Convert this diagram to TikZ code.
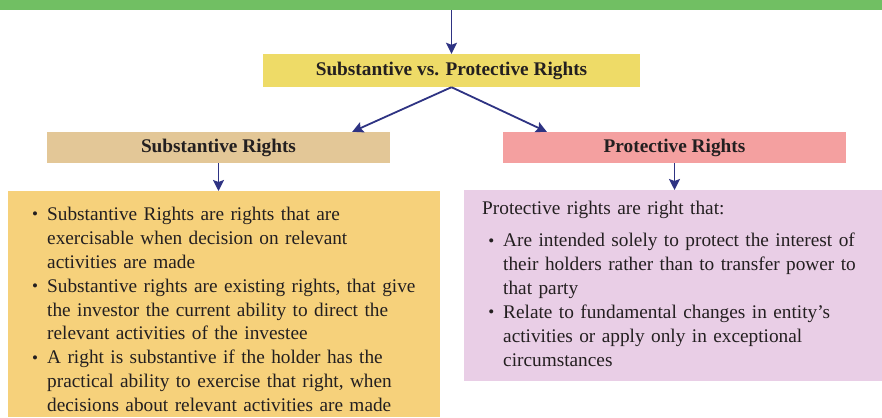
\documentclass[tikz,border=0pt]{standalone}
\usepackage{fontspec}
\setmainfont{Liberation Serif}
\usepackage{enumitem}
\usetikzlibrary{arrows.meta}
\definecolor{barGreen}{HTML}{71BF63}
\definecolor{titleYellow}{HTML}{EEDB67}
\definecolor{substTan}{HTML}{E3C797}
\definecolor{protPink}{HTML}{F4A0A0}
\definecolor{substGold}{HTML}{F6D17B}
\definecolor{protLilac}{HTML}{E9CEE6}
\definecolor{arrowNavy}{HTML}{2E3383}
\definecolor{inkDark}{HTML}{231F20}
\newcommand{\rightsdot}{\raisebox{0.5pt}{\fontsize{17}{17}\selectfont\textbullet}}
\begin{document}
\begin{tikzpicture}[x=1pt, y=-1pt,
  headbox/.style={rectangle, inner sep=0pt, text=inkDark, font=\bfseries\fontsize{19.3}{23}\selectfont},
  listbox/.style={rectangle, inner ysep=0pt, align=left, text=inkDark, font=\fontsize{19.3}{23.9}\selectfont},
  arr/.style={-{Stealth[length=11pt, width=11pt, inset=2pt]}, line width=1.8pt, draw=arrowNavy}]
\useasboundingbox (0,0) rectangle (882,417);

% Green strip and title
\node[fill=barGreen, anchor=north west, inner sep=0pt, minimum width=882pt, minimum height=10pt] (bar) at (0,0) {};
\node[headbox, fill=titleYellow, minimum width=377pt, minimum height=33pt] (title) at (451.5,70.5) {Substantive vs. Protective Rights};

% Second level headings
\node[headbox, fill=substTan, minimum width=343pt, minimum height=31pt] (subst) at (218.5,147.5) {Substantive Rights};
\node[headbox, fill=protPink, minimum width=343pt, minimum height=31pt] (prot) at (674.5,147.5) {Protective Rights};

% Detail boxes
\node[listbox, fill=substGold, inner xsep=16pt, text width=400pt, minimum height=226pt, anchor=north west] (substlist) at (8,191) {%
  \begin{itemize}[leftmargin=23pt, labelsep=9pt, label=\rightsdot, topsep=0pt, itemsep=0pt, parsep=0pt, partopsep=0pt]
  \item Substantive Rights are rights that are\\ exercisable when decision on relevant\\ activities are made
  \item Substantive rights are existing rights, that give\\ the investor the current ability to direct the\\ relevant activities of the investee
  \item A right is substantive if the holder has the\\ practical ability to exercise that right, when\\ decisions about relevant activities are made
  \end{itemize}};
\node[listbox, fill=protLilac, inner xsep=18pt, text width=382pt, minimum height=191pt, anchor=north west] (protlist) at (464,190) {%
  Protective rights are right that:
  \begin{itemize}[leftmargin=21pt, labelsep=9pt, label=\rightsdot, topsep=8pt, itemsep=0pt, parsep=0pt, partopsep=0pt]
  \item Are intended solely to protect the interest of\\ their holders rather than to transfer power to\\ that party
  \item Relate to fundamental changes in entity’s\\ activities or apply only in exceptional\\ circumstances
  \end{itemize}\vspace*{-4pt}};

% Connectors
\draw[arr] (bar.south -| title.north) -- (title.north);
\draw[arr] (title.south) -- ([xshift=-38pt]subst.north east);
\draw[arr] (title.south) -- ([xshift=44pt]prot.north west);
\draw[arr] (subst.south) -- (subst.south |- substlist.north);
\draw[arr] (prot.south) -- (prot.south |- protlist.north);

\end{tikzpicture}
\end{document}
